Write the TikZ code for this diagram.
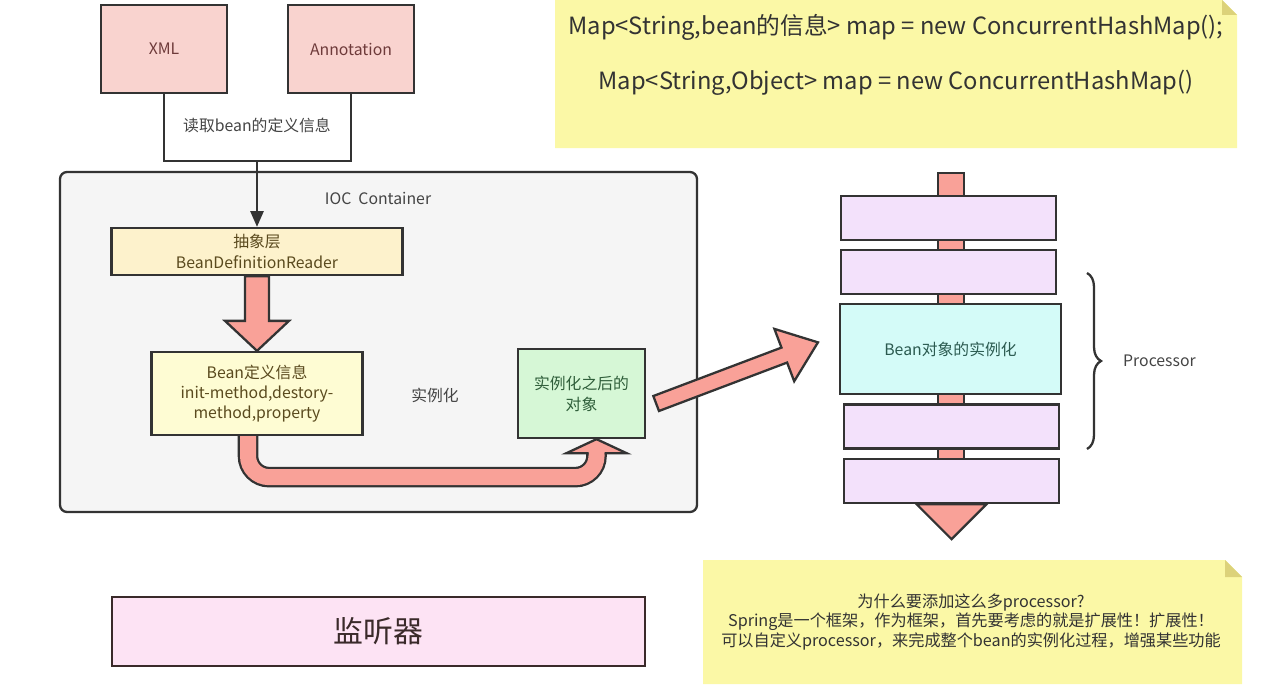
\documentclass[tikz,border=0pt]{standalone}
\usepackage{fontspec}
\setmainfont{Noto Sans CJK SC}
\usetikzlibrary{positioning,calc,arrows.meta,decorations.pathreplacing}

\definecolor{boxline}{HTML}{333333}
\definecolor{labelgray}{HTML}{444444}
\definecolor{srcfill}{HTML}{F9D3CF}
\definecolor{srctext}{HTML}{6E3A3A}
\definecolor{readerfill}{HTML}{FDF2CC}
\definecolor{deffill}{HTML}{FEFCD3}
\definecolor{yellowtext}{HTML}{5A4A1E}
\definecolor{objfill}{HTML}{D6F7D6}
\definecolor{greentext}{HTML}{2F5E3A}
\definecolor{instfill}{HTML}{D4FBF8}
\definecolor{tealtext}{HTML}{2B5A50}
\definecolor{procfill}{HTML}{F3E1FB}
\definecolor{arrowfill}{HTML}{F9A198}
\definecolor{iocfill}{HTML}{F5F5F5}
\definecolor{notefill}{HTML}{FBF8A6}
\definecolor{notefold}{HTML}{DCD27A}
\definecolor{listenfill}{HTML}{FDE3F4}
\definecolor{listentext}{HTML}{3A2A2A}

\def\u{0.02cm}

\begin{document}
\begin{tikzpicture}[x=0.02cm,y=-0.02cm,
  every node/.style={font=\fontsize{9}{12}\selectfont,text=labelgray},
  box/.style={draw=boxline,line width=1.3pt,rectangle,inner sep=0pt,align=center},
  src/.style={box,fill=srcfill,text=srctext,minimum width=126*\u,minimum height=88*\u},
  procbox/.style={box,fill=procfill,minimum width=215*\u,minimum height=44*\u},
  fat/.style={draw=boxline,line width=1.3pt,fill=arrowfill,line join=miter}]
\useasboundingbox (0,0) rectangle (1267,696);

% notes
\fill[notefill] (555,0) -- (1222,0) -- (1237,15) -- (1237,148) -- (555,148) -- cycle;
\fill[notefold] (1222,0) -- (1237,15) -- (1222,15) -- cycle;
\node[font=\fontsize{13.5}{16}\selectfont,text=boxline] (map1) at (896,27) {Map<String,bean的信息> map = new ConcurrentHashMap();};
\node[font=\fontsize{13.5}{16}\selectfont,text=boxline] (map2) at (896,83) {Map<String,Object> map = new ConcurrentHashMap()};

\fill[notefill] (703,560) -- (1225,560) -- (1242,577) -- (1242,684) -- (703,684) -- cycle;
\fill[notefold] (1225,560) -- (1242,577) -- (1225,577) -- cycle;
\node[align=center,font=\fontsize{9.2}{11}\selectfont,text=boxline] (why) at (971,622)
  {为什么要添加这么多processor?\\Spring是一个框架，作为框架，首先要考虑的就是扩展性！扩展性！\\可以自定义processor，来完成整个bean的实例化过程，增强某些功能};

% IOC container
\node[box,rounded corners=4pt,fill=iocfill,minimum width=637*\u,minimum height=340*\u] (ioc) at (378.5,342) {};
\node (ioclabel) at (378,198) {IOC~~Container};

\node[src] (xml) at (164,49) {XML};
\node[src] (anno) at (351,49) {Annotation};
\coordinate (readbot) at (257,161);
\draw[boxline,line width=1.3pt] (xml.south) |- (readbot) -| (anno.south);
\node (readlabel) at (257,125) {读取bean的定义信息};

\node[box,fill=readerfill,text=yellowtext,minimum width=291*\u,minimum height=47*\u] (reader) at (257,251.5) {抽象层\\BeanDefinitionReader};
\draw[boxline,line width=1.3pt,-{Triangle[length=9pt,width=7.5pt]}] (readbot) -- (reader.north);

\node[box,fill=deffill,text=yellowtext,minimum width=211*\u,minimum height=83*\u,font=\fontsize{9}{11.3}\selectfont] (def) at (257,393.5) {Bean定义信息\\init-method,destory-\\method,property};
\node (instlabel) at (435,395) {实例化};
\node[box,fill=objfill,text=greentext,minimum width=127*\u,minimum height=89*\u] (obj) at (581.5,393.5) {实例化之后的\\对象};

% reader -> def
\draw[fat] ($(reader.south)+(-12,0)$) -- ($(def.north)+(-12,-30)$) -- ($(def.north)+(-32,-30)$) -- (def.north)
  -- ($(def.north)+(32,-30)$) -- ($(def.north)+(12,-30)$) -- ($(reader.south)+(12,0)$) -- cycle;

% def -> obj
\coordinate (ua) at ($(def.south)+(-9,0)$);
\coordinate (ub) at ($(obj.south)+(15,0)$);
\draw[boxline,line width=1.3pt,double=arrowfill,double distance=0.32cm,rounded corners=12pt]
  (ua) |- ($(ub)+(0,38)$) -- ($(ub)+(0,14)$);
\fill[arrowfill] ($(ub)+(-30,14)$) -- (ub) -- ($(ub)+(30,14)$) -- cycle;
\draw[boxline,line width=1.3pt] ($(ub)+(-8,14)$) -- ($(ub)+(-30,14)$) -- (ub) -- ($(ub)+(30,14)$) -- ($(ub)+(8,14)$);

% obj -> processors
\begin{scope}[shift={($(obj.east)+(10,10)$)},rotate=20.7]
\draw[fat] (0,-8) -- (137,-8) -- (137,-28) -- (173,0) -- (137,28) -- (137,8) -- (0,8) -- cycle;
\end{scope}

% processor stack
\filldraw[fill=arrowfill,draw=boxline,line width=1.3pt] (938,173) rectangle (964,505);
\foreach \n/\x/\y in {1/948.5/218,2/948.5/272,4/951.5/426.5,5/951.5/481}
	\node[procbox] (p\n) at (\x,\y) {};
\node[box,fill=instfill,text=tealtext,minimum width=221*\u,minimum height=90*\u] (inst) at (950.5,349) {Bean对象的实例化};
\draw[fat] ($(p5.south)+(-35,0)$) -- ($(p5.south)+(35,0)$) -- ($(p5.south)+(0,35)$) -- cycle;

\coordinate (br1) at (1087,273);
\coordinate (br2) at (1087,449);
\draw[boxline,line width=1.3pt,decorate,decoration={brace,amplitude=0.28cm}] (br1) -- (br2);
\node[anchor=west] (proc) at (1117,361) {Processor};

% listener
\node[box,draw=listentext,fill=listenfill,text=listentext,minimum width=533*\u,minimum height=69*\u,font=\fontsize{17}{20}\selectfont] (listener) at (378.5,631.5) {监听器};

\end{tikzpicture}
\end{document}
